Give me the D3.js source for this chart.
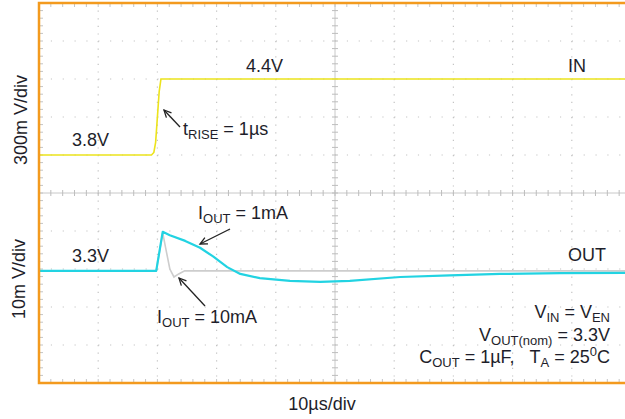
<!DOCTYPE html>
<html>
<head>
<meta charset="utf-8">
<script src="https://cdn.jsdelivr.net/npm/d3@7"></script>
<style>
  body { margin: 0; background: #fff; }
  svg { display: block; font-family: "Liberation Sans", Arial, sans-serif; }
  .lbl { fill: #1e1e2a; font-size: 18px; }
</style>
</head>
<body>
<div id="chart"></div>
<script>
// time axis, µs (10 µs/div)
const xTicks = d3.range(0, 101, 10);

// IN trace (V, 300 mV/div)
const inTime = [0, 19.0, 19.4, 19.7, 20.3, 20.6, 100];
const inVolt = [3.8, 3.8, 3.82, 3.9, 4.3, 4.4, 4.4];

// OUT traces, deviation from 3.3 V in mV (10 mV/div)
const out1Time = [0, 19.8, 20.9, 22.1, 24.7, 27.2, 29.4, 31.8, 34.0, 37.3, 42.4, 47.5, 52.5, 61, 69.4, 77.9, 88, 100];
const out1mV   = [0, 0, 10.3, 9.4, 7.9, 6.1, 3.8, 1.0, -0.8, -1.9, -2.6, -2.9, -2.6, -1.6, -1.2, -0.8, -0.6, -0.5];

const out10Time = [0, 19.8, 20.9, 21.4, 22.1, 22.8, 23.6, 24.6, 100];
const out10mV   = [0, 0, 10.0, 6.0, 0.5, -1.6, -0.8, 0, 0];

const W = 625, H = 419;
const L = 39, R = 631, T = 3, B = 383;

const svg = d3.select("#chart").append("svg")
    .attr("width", W).attr("height", H);

const x = d3.scaleLinear().domain([0, 100]).range([L, R]);
const div = d3.scaleLinear().domain([0, 10]).range([T, B]);   // vertical divisions
const yIn = d3.scaleLinear().domain([2.0, 5.0]).range([B, T]);
const yOut = d3.scaleLinear().domain([-29.5, 70.5]).range([B, T]);

const grid = svg.append("g");
const dx = x(10) - x(0), dy = div(1) - div(0);

// dotted grid
grid.selectAll(".vg").data(xTicks.slice(1, -1).filter(d => d !== 50)).enter()
    .append("line")
    .attr("x1", d => x(d)).attr("x2", d => x(d))
    .attr("y1", T).attr("y2", B)
    .attr("stroke", "#c4c4c4").attr("stroke-width", 1.2)
    .attr("stroke-dasharray", `1.2,${dy / 5 - 1.2}`);
grid.selectAll(".hg").data(d3.range(1, 10).filter(d => d !== 5)).enter()
    .append("line")
    .attr("x1", L).attr("x2", R)
    .attr("y1", d => div(d)).attr("y2", d => div(d))
    .attr("stroke", "#c4c4c4").attr("stroke-width", 1.2)
    .attr("stroke-dasharray", `1.2,${dx / 5 - 1.2}`);

// centre cross with minor ticks
grid.append("line").attr("x1", L).attr("x2", R)
    .attr("y1", div(5)).attr("y2", div(5))
    .attr("stroke", "#c8c8c8").attr("stroke-width", 1);
grid.append("line").attr("x1", x(50)).attr("x2", x(50))
    .attr("y1", T).attr("y2", B)
    .attr("stroke", "#c8c8c8").attr("stroke-width", 1);

const minorX = d3.range(0, 101, 2);
const minorY = d3.range(0, 10.01, 0.2);
grid.selectAll(".mx").data(minorX).enter().append("line")
    .attr("x1", d => x(d)).attr("x2", d => x(d))
    .attr("y1", div(5) - 3).attr("y2", div(5) + 3)
    .attr("stroke", "#bdbdbd");
grid.selectAll(".my").data(minorY).enter().append("line")
    .attr("x1", x(50) - 3).attr("x2", x(50) + 3)
    .attr("y1", d => div(d)).attr("y2", d => div(d))
    .attr("stroke", "#bdbdbd");
// border ticks
grid.selectAll(".tt").data(minorX).enter().append("line")
    .attr("x1", d => x(d)).attr("x2", d => x(d))
    .attr("y1", T).attr("y2", T + 4)
    .attr("stroke", "#c4c4c4");
grid.selectAll(".bt").data(minorX).enter().append("line")
    .attr("x1", d => x(d)).attr("x2", d => x(d))
    .attr("y1", B - 4).attr("y2", B)
    .attr("stroke", "#c4c4c4");
grid.selectAll(".lt").data(minorY).enter().append("line")
    .attr("x1", L).attr("x2", L + 4)
    .attr("y1", d => div(d)).attr("y2", d => div(d))
    .attr("stroke", "#c4c4c4");

// traces
const lineIn = d3.line().x(d => x(d[0])).y(d => yIn(d[1]));
const lineOut = d3.line().x(d => x(d[0])).y(d => yOut(d[1]));

svg.append("path").datum(d3.zip(out10Time, out10mV))
    .attr("d", lineOut).attr("fill", "none")
    .attr("stroke", "#cdcdcd").attr("stroke-width", 1.6);
svg.append("path").datum(d3.zip(out1Time, out1mV))
    .attr("d", lineOut).attr("fill", "none")
    .attr("stroke", "#22d3e2").attr("stroke-width", 2.2)
    .attr("stroke-linejoin", "round");
svg.append("path").datum(d3.zip(inTime, inVolt))
    .attr("d", lineIn).attr("fill", "none")
    .attr("stroke", "#ece31c").attr("stroke-width", 1.6);

// frame
svg.append("rect").attr("x", L).attr("y", T)
    .attr("width", R - L).attr("height", B - T)
    .attr("fill", "none").attr("stroke", "#f39a1e").attr("stroke-width", 2.5);

// labels
function label(xp, yp, parts, anchor) {
  const t = svg.append("text").attr("class", "lbl")
      .attr("x", xp).attr("y", yp).attr("text-anchor", anchor || "start")
      .style("white-space", "pre");
  let shift = 0;
  parts.forEach(p => {
    const s = t.append("tspan").text(p[0]);
    const want = p[1] === "sub" ? 4 : p[1] === "sup" ? -7 : 0;
    if (want !== shift) { s.attr("dy", want - shift); shift = want; }
    if (p[1]) s.style("font-size", "13px");
  });
  return t;
}

label(72, 146, [["3.8V"]]);
label(246, 72, [["4.4V"]]);
label(568, 72, [["IN"]]);
label(183, 135, [["t"], ["RISE", "sub"], [" = 1µs"]]);
label(72, 262, [["3.3V"]]);
label(568, 261, [["OUT"]]);
label(198, 219, [["I"], ["OUT", "sub"], [" = 1mA"]]);
label(157, 323, [["I"], ["OUT", "sub"], [" = 10mA"]]);
label(610, 318, [["V"], ["IN", "sub"], [" = V"], ["EN", "sub"]], "end");
label(610, 341, [["V"], ["OUT(nom)", "sub"], [" = 3.3V"]], "end");
label(610, 363, [["C"], ["OUT", "sub"], [" = 1µF,\u00A0\u00A0\u00A0T"], ["A", "sub"], [" = 25"], ["0", "sup"], ["C"]], "end");
label(322, 410, [["10µs/div"]], "middle");

svg.append("text").attr("class", "lbl")
    .attr("transform", "translate(27,120) rotate(-90)")
    .attr("text-anchor", "middle").text("300m V/div");
svg.append("text").attr("class", "lbl")
    .attr("transform", "translate(25,279) rotate(-90)")
    .attr("text-anchor", "middle").text("10m V/div");

// arrows
const arrows = [
  [[180, 127], [164, 110]],
  [[230, 229], [200, 244]],
  [[205, 306], [179, 278]]
];
arrows.forEach(a => {
  const [p, q] = a;
  const ang = Math.atan2(q[1] - p[1], q[0] - p[0]);
  const h = 8, w = 0.45;
  svg.append("line").attr("x1", p[0]).attr("y1", p[1])
      .attr("x2", q[0]).attr("y2", q[1])
      .attr("stroke", "#222").attr("stroke-width", 1.3);
  svg.append("polyline")
      .attr("points", [
        [q[0] - h * Math.cos(ang - w), q[1] - h * Math.sin(ang - w)],
        q,
        [q[0] - h * Math.cos(ang + w), q[1] - h * Math.sin(ang + w)]
      ].map(d => d.join(",")).join(" "))
      .attr("fill", "none").attr("stroke", "#222").attr("stroke-width", 1.3);
});
</script>
</body>
</html>
